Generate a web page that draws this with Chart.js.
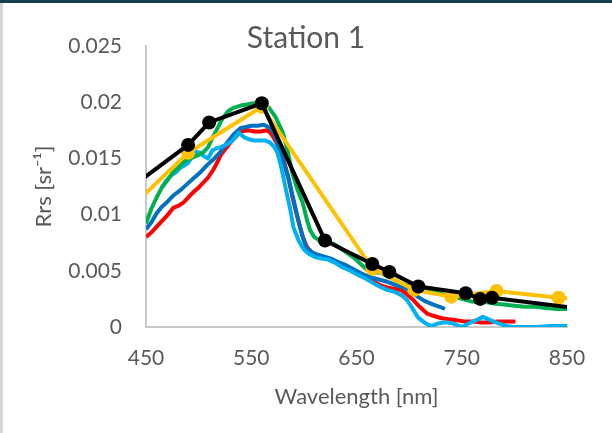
<!DOCTYPE html>
<html>
<head>
<meta charset="utf-8">
<script src="https://cdn.jsdelivr.net/npm/chart.js@4.4.1/dist/chart.umd.min.js"></script>
<style>
  html, body { margin: 0; padding: 0; background: #fff; }
  #frame { position: relative; width: 612px; height: 433px; overflow: hidden; }
  #topBar { position: absolute; left: 0; top: 0; width: 612px; height: 3px; background: #15404b; }
  #leftBar { position: absolute; left: 0; top: 3px; width: 3px; height: 430px; background: #d6d6d6; }
  canvas { position: absolute; left: 0; top: 0; }
</style>
</head>
<body>
<div id="frame">
  <div id="topBar"></div>
  <div id="leftBar"></div>
  <canvas id="rrsChart" width="612" height="433"></canvas>
</div>
<script>
// Axis ticks
const xTicks = [450, 550, 650, 750, 850];
const yTicks = [0, 0.005, 0.01, 0.015, 0.02, 0.025];
const yTickLabels = ['0', '0.005', '0.01', '0.015', '0.02', '0.025'];

// Satellite band values (with markers)
const olciWl = [442.5, 490, 510, 560, 620, 665, 681.25, 708.75, 753.75, 767.5, 778.75, 865];
const olciRrs = [0.0129, 0.0162, 0.0182, 0.0199, 0.0077, 0.0056, 0.0049, 0.0036, 0.0030, 0.0025, 0.0026, 0.0016];

const msiWl = [443, 490, 560, 665, 705, 740, 783, 842, 865];
const msiRrs = [0.0113, 0.0155, 0.0196, 0.0052, 0.0033, 0.0027, 0.0032, 0.0026, 0.0025];

// Hyperspectral spectra
const greenWl = [450, 455, 460, 465, 470, 476, 482, 486, 490, 495, 500, 505, 509, 513, 518, 523, 528, 533, 540, 546,
  552, 558, 563, 567, 573, 580, 585, 589, 594, 599, 603, 606, 610, 615, 620, 628, 635, 641, 647, 654,
  660, 667, 673, 680, 686, 692, 698, 705, 711, 717, 725, 733, 742, 750, 758, 766, 774, 780, 790, 800,
  810, 820, 830, 840, 850];
const greenRrs = [0.0092, 0.0105, 0.0115, 0.0124, 0.0130, 0.0138, 0.0143, 0.0147, 0.0149, 0.0151, 0.0153, 0.0156, 0.0160, 0.0168, 0.0177, 0.0186, 0.0192, 0.0195, 0.0197, 0.0198,
  0.0199, 0.0198, 0.0197, 0.0195, 0.0187, 0.0173, 0.0155, 0.0137, 0.0122, 0.0110, 0.0095, 0.0086, 0.0080, 0.0077, 0.0077, 0.0074, 0.0070, 0.0066, 0.0062, 0.0056,
  0.0051, 0.0049, 0.0048, 0.0045, 0.0042, 0.0039, 0.0037, 0.0035, 0.0034, 0.0033, 0.0031, 0.0029, 0.0027, 0.0025, 0.0023, 0.0022, 0.0022, 0.0021, 0.0020, 0.0019,
  0.0018, 0.0018, 0.0017, 0.0016, 0.0016];

const blueWl = [450, 455, 460, 465, 470, 476, 483, 490, 496, 502, 508, 515, 521, 527, 533, 540, 545, 550, 556, 562,
  568, 572, 576, 581, 586, 590, 594, 598, 602, 607, 611, 618, 625, 632, 640, 648, 656, 664, 672, 680,
  688, 695, 701, 708, 715, 723, 729, 734];
const blueRrs = [0.0087, 0.0093, 0.0101, 0.0107, 0.0111, 0.0117, 0.0122, 0.0128, 0.0133, 0.0138, 0.0144, 0.0150, 0.0156, 0.0164, 0.0171, 0.0177, 0.0178, 0.0179, 0.0179, 0.0180,
  0.0177, 0.0172, 0.0160, 0.0146, 0.0130, 0.0114, 0.0098, 0.0083, 0.0071, 0.0067, 0.0065, 0.0063, 0.0061, 0.0058, 0.0055, 0.0051, 0.0047, 0.0044, 0.0042, 0.0040,
  0.0037, 0.0035, 0.0032, 0.0027, 0.0023, 0.0020, 0.0018, 0.0016];

const redWl = [450, 455, 460, 464, 470, 476, 481, 486, 490, 495, 500, 505, 509, 514, 518, 521, 526, 531, 536, 540,
  547, 553, 559, 565, 568, 571, 575, 580, 585, 589, 594, 599, 603, 608, 614, 621, 627, 633, 640, 645,
  650, 655, 660, 667, 673, 680, 686, 692, 698, 704, 710, 717, 723, 730, 737, 745, 752, 760, 768, 776,
  784, 792, 801];
const redRrs = [0.0080, 0.0084, 0.0089, 0.0093, 0.0099, 0.0106, 0.0108, 0.0111, 0.0115, 0.0120, 0.0124, 0.0129, 0.0133, 0.0140, 0.0147, 0.0153, 0.0159, 0.0165, 0.0170, 0.0174,
  0.0175, 0.0174, 0.0174, 0.0175, 0.0173, 0.0169, 0.0162, 0.0151, 0.0134, 0.0116, 0.0097, 0.0080, 0.0071, 0.0066, 0.0063, 0.0061, 0.0060, 0.0057, 0.0054, 0.0051,
  0.0048, 0.0045, 0.0043, 0.0040, 0.0037, 0.0035, 0.0034, 0.0033, 0.0029, 0.0024, 0.0018, 0.0012, 0.0010, 0.0008, 0.0007, 0.0006, 0.0005, 0.0005, 0.0004, 0.0004,
  0.0005, 0.0005, 0.0005];

const cyanWl = [465, 469, 474, 479, 483, 487, 490, 494, 497, 501, 505, 509, 513, 517, 521, 526, 531, 535, 538, 543,
  548, 552, 558, 563, 568, 572, 575, 579, 583, 587, 590, 595, 600, 605, 611, 617, 623, 630, 637, 644,
  652, 659, 666, 672, 679, 687, 693, 698, 703, 708, 713, 718, 722, 727, 732, 737, 742, 747, 751, 756,
  761, 766, 770, 775, 780, 786, 792, 799, 810, 821, 835, 850];
const cyanRrs = [0.0124, 0.0130, 0.0135, 0.0138, 0.0142, 0.0144, 0.0146, 0.0152, 0.0156, 0.0155, 0.0152, 0.0150, 0.0157, 0.0159, 0.0160, 0.0162, 0.0165, 0.0169, 0.0173, 0.0169,
  0.0167, 0.0166, 0.0166, 0.0166, 0.0164, 0.0160, 0.0155, 0.0140, 0.0122, 0.0105, 0.0089, 0.0077, 0.0069, 0.0065, 0.0062, 0.0061, 0.0060, 0.0057, 0.0053, 0.0050,
  0.0046, 0.0043, 0.0039, 0.0036, 0.0033, 0.0031, 0.0028, 0.0024, 0.0017, 0.0009, 0.0005, 0.0002, 0.0001, 0.0003, 0.0004, 0.0004, 0.0003, 0.0001, 0.0000, 0.0003,
  0.0005, 0.0007, 0.0009, 0.0007, 0.0005, 0.0003, 0.0001, 0.0000, 0.0000, 0.0000, 0.0001, 0.0001];

const toPoints = (wl, rrs) => wl.map((x, i) => ({ x: x, y: rrs[i] }));
const inRange = ctx => ctx.raw && ctx.raw.x >= 450 && ctx.raw.x <= 850;

const textColor = '#595959';
const font = 'Lato, "Open Sans", sans-serif';

function spectrum(label, wl, rrs, color) {
  return {
    label: label,
    data: toPoints(wl, rrs),
    borderColor: color,
    backgroundColor: color,
    borderWidth: 4,
    pointRadius: 0,
    tension: 0,
    borderJoinStyle: 'round'
  };
}

// Title centred on the whole canvas, like the Excel chart title
const chartTitle = {
  id: 'chartTitle',
  afterDraw(chart) {
    const c = chart.ctx;
    c.save();
    c.fillStyle = textColor;
    c.font = '30px ' + font;
    c.textAlign = 'center';
    c.textBaseline = 'middle';
    c.fillText('Station 1', chart.width / 2, 38);
    c.restore();
  }
};

const ctx = document.getElementById('rrsChart').getContext('2d');
new Chart(ctx, {
  type: 'line',
  data: {
    datasets: [
      {
        label: 'OLCI',
        data: toPoints(olciWl, olciRrs),
        borderColor: '#000000',
        backgroundColor: '#000000',
        borderWidth: 4,
        pointRadius: c => inRange(c) ? 7 : 0,
        pointBorderWidth: 0,
        tension: 0
      },
      {
        label: 'MSI',
        data: toPoints(msiWl, msiRrs),
        borderColor: '#FFC000',
        backgroundColor: '#FFC000',
        borderWidth: 4,
        pointRadius: c => inRange(c) ? 7 : 0,
        pointBorderWidth: 0,
        tension: 0
      },
      spectrum('Green', greenWl, greenRrs, '#00B050'),
      spectrum('Cyan', cyanWl, cyanRrs, '#00B0F0'),
      spectrum('Blue', blueWl, blueRrs, '#0070C0'),
      spectrum('Red', redWl, redRrs, '#FF0000')
    ]
  },
  options: {
    responsive: false,
    animation: false,
    layout: { padding: { left: 0, right: 45, top: 46, bottom: 0 } },
    plugins: {
      legend: { display: false },
      tooltip: { enabled: false },
      title: { display: false }
    },
    scales: {
      x: {
        type: 'linear',
        min: 450,
        max: 850,
        afterBuildTicks: scale => { scale.ticks = xTicks.map(v => ({ value: v })); },
        afterFit: scale => { scale.height = 106; },
        grid: { display: false, drawTicks: false },
        border: { display: true, color: '#C8C8C8', width: 2 },
        ticks: { color: textColor, font: { family: font, size: 21 }, padding: 19, maxRotation: 0, autoSkip: false },
        title: {
          display: true,
          text: 'Wavelength [nm]',
          color: textColor,
          font: { family: font, size: 22 },
          padding: { top: 4, bottom: 23 }
        }
      },
      y: {
        min: 0,
        max: 0.025,
        afterBuildTicks: scale => { scale.ticks = yTicks.map(v => ({ value: v })); },
        afterFit: scale => { scale.width = 146; },
        grid: { display: false, drawTicks: false },
        border: { display: true, color: '#C8C8C8', width: 2 },
        ticks: {
          color: textColor,
          font: { family: font, size: 21 },
          padding: 24,
          callback: (v, i) => yTickLabels[i]
        },
        title: {
          display: true,
          text: 'Rrs [sr⁻¹]',
          color: textColor,
          font: { family: font, size: 22 },
          padding: { top: 31, bottom: 4 }
        }
      }
    }
  },
  plugins: [chartTitle]
});
</script>
</body>
</html>
